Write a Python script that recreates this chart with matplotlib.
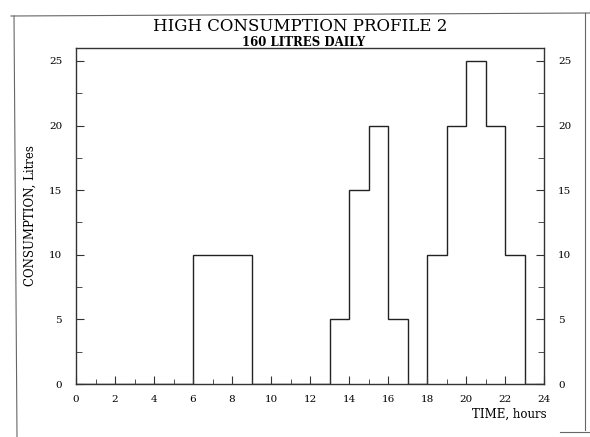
import matplotlib
matplotlib.use("Agg")
import matplotlib.pyplot as plt
from matplotlib.lines import Line2D
import numpy as np

hours = list(range(25))
consumption = [0, 0, 0, 0, 0, 0, 10, 10, 10, 0, 0, 0, 0, 5, 15, 20, 5, 0, 10, 20, 25, 20, 10, 0]
x_ticks = list(range(0, 25, 2))
y_ticks = [0, 5, 10, 15, 20, 25]

plt.rcParams['font.family'] = ['DejaVu Serif']

W, H = 590, 437
fig = plt.figure(figsize=(5.9, 4.37), dpi=100)
L, R, T, B = 76, 544, 48, 384
ax = fig.add_axes([L/W, 1-B/H, (R-L)/W, (B-T)/H])

ax.stairs(consumption, edges=hours, color='#222222', linewidth=1.0, baseline=0)
ax.set_xlim(0, 24)
ax.set_ylim(0, 26)

ax.set_xticks(x_ticks)
ax.set_xticks(range(25), minor=True)
ax.set_yticks(y_ticks)
ax.set_yticks(np.arange(0, 26, 2.5), minor=True)
ax.tick_params(axis='x', which='both', direction='in', labelsize=7.5, pad=8, color='#333333')
ax.tick_params(axis='x', which='major', length=6)
ax.tick_params(axis='x', which='minor', length=3.5)
ax.tick_params(axis='y', which='both', direction='in', labelsize=7.5, pad=10,
               left=True, right=True, labelleft=True, labelright=True, color='#333333')
ax.tick_params(axis='y', which='major', length=6)
ax.tick_params(axis='y', which='minor', length=4.5)
for s in ax.spines.values():
    s.set_color('#333333')
    s.set_linewidth(1.0)

ax.set_ylabel('CONSUMPTION, Litres', fontsize=8.5, labelpad=9)
fig.text(547/W, 1-414/H, 'TIME, hours', ha='right', va='center', fontsize=8.5)

fig.text(300/W, 1-31/H, 'HIGH CONSUMPTION PROFILE 2', ha='center', va='baseline', fontsize=12)
fig.text(304/W, 1-46/H, '160 LITRES DAILY', ha='center', va='baseline', fontsize=8.5,
         fontweight='bold')

# scanned page frame
fw = 0.8
c = '#666666'
fig.add_artist(Line2D([14/W, 17/W], [1-16/H, 0], color=c, lw=fw))
fig.add_artist(Line2D([11/W, 1], [1-16/H, 1-13/H], color=c, lw=fw))
fig.add_artist(Line2D([585/W, 585/W], [1-13/H, 1-430/H], color=c, lw=fw))
fig.add_artist(Line2D([560/W, 1], [1-432/H, 1-432/H], color=c, lw=fw))

fig.savefig('out.png', dpi=100)
